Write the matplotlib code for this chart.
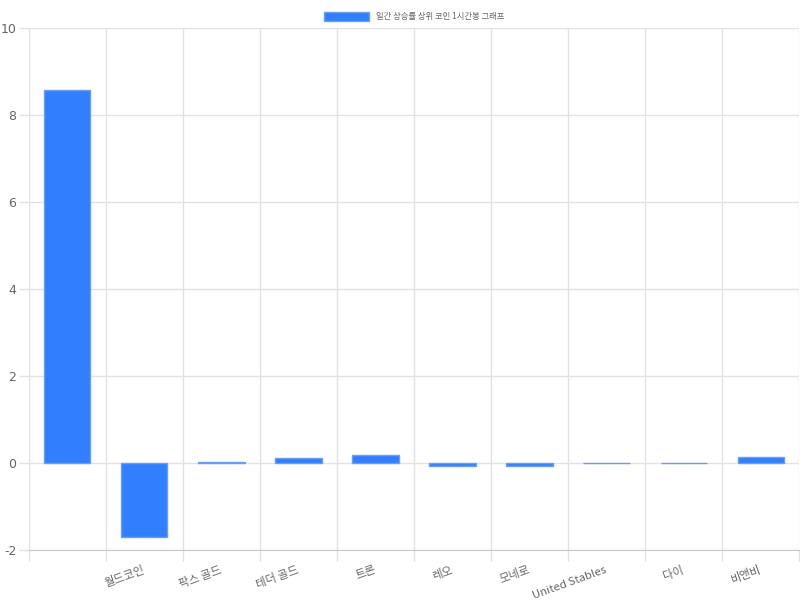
import matplotlib.pyplot as plt
import numpy as np

plt.rcParams['font.family'] = ['Noto Sans CJK KR', 'DejaVu Sans']

# 데이터
coins = ['', '월드코인', '팍스 골드', '테더 골드', '트론', '레오', '모네로', 'United Stables', '다이', '비앤비']
changes = [8.57, -1.70, 0.02, 0.12, 0.18, -0.06, -0.06, -0.01, -0.01, 0.13]
y_ticks = [-2, 0, 2, 4, 6, 8, 10]
legend_label = '일간 상승률 상위 코인 1시간봉 그래프'

bar_color = '#2f7fff'
edge_color = '#6a9ff0'
grid_color = '#e2e2e2'
text_color = '#666666'

fig = plt.figure(figsize=(8, 6), dpi=100)
ax = fig.add_axes([0.036, 0.0833, 0.963, 0.87])

x = np.arange(len(coins))
ax.bar(x, changes, width=0.6, color=bar_color, edgecolor=edge_color,
       linewidth=1, label=legend_label, zorder=3)

ax.set_xlim(-0.5, len(coins) - 0.5)
ax.set_ylim(-2, 10)
ax.set_yticks(y_ticks)
ax.set_yticklabels([str(v) for v in y_ticks], color=text_color, fontsize=9,
                   family=['DejaVu Sans'])

# 카테고리 경계에 세로 격자선
ax.set_xticks(np.arange(-0.5, len(coins)), minor=True)
ax.set_xticks(x)
ax.set_xticklabels(coins, rotation=20, ha='right', va='center',
                   rotation_mode='anchor', color=text_color, fontsize=8.2)
ax.tick_params(axis='x', which='major', length=0, pad=14)
ax.tick_params(axis='x', which='minor', length=8, color=grid_color, width=1)
ax.tick_params(axis='y', length=7, color=grid_color, width=1, pad=2)

ax.grid(True, which='minor', axis='x', color=grid_color, linewidth=1, zorder=0)
ax.grid(True, which='major', axis='y', color=grid_color, linewidth=1, zorder=0)
ax.grid(False, which='major', axis='x')

for side in ['top', 'right']:
    ax.spines[side].set_visible(False)
ax.spines['left'].set_color(grid_color)
ax.spines['bottom'].set_color('#c8c8c8')

ax.legend(loc='lower center', bbox_to_anchor=(0.5, 1.0), frameon=False,
          fontsize=6, handlelength=5.5, handleheight=1.2, labelcolor=text_color,
          borderaxespad=0.4)

fig.savefig('out.png', dpi=100)
